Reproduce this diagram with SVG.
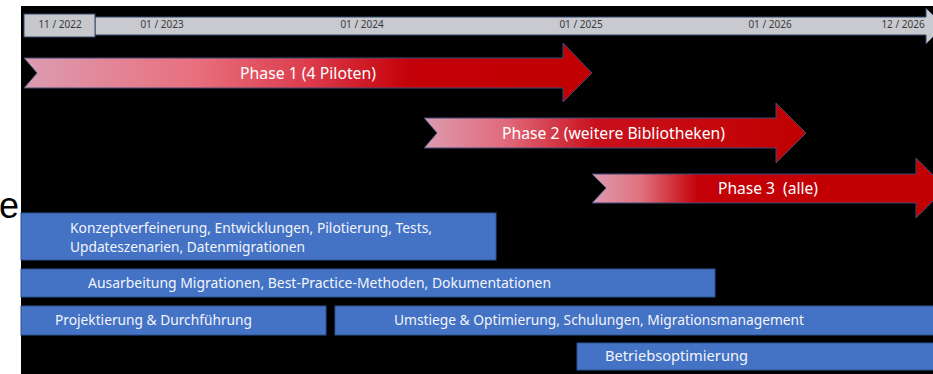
<svg xmlns="http://www.w3.org/2000/svg" width="933" height="374" viewBox="0 0 933 374">
<style>
.tl{font-family:"Noto Sans","Open Sans",sans-serif;font-size:10px;fill:#3a3a3a;text-anchor:middle}
.ph{font-family:"Noto Sans","Open Sans",sans-serif;font-size:16px;fill:#ffffff}
.bt{font-family:"Noto Sans","Open Sans",sans-serif;font-size:14.5px;fill:#f2f5fb}
.b1{font-size:13.5px}
.bar{fill:#4472c4;stroke:#2f528f;stroke-width:1}
.arr{stroke:#3d4a78;stroke-width:1}
</style>
<defs>
<linearGradient id="g1" gradientUnits="userSpaceOnUse" x1="24" y1="0" x2="592" y2="0">
<stop offset="0" stop-color="#dc9cb0"/>
<stop offset="0.3" stop-color="#e8707e"/>
<stop offset="0.5" stop-color="#dc3c4c"/>
<stop offset="0.68" stop-color="#c40008"/>
<stop offset="1" stop-color="#c00000"/>
</linearGradient>
<linearGradient id="g2" gradientUnits="userSpaceOnUse" x1="424" y1="0" x2="806" y2="0">
<stop offset="0" stop-color="#dc9cb0"/>
<stop offset="0.22" stop-color="#e06878"/>
<stop offset="0.45" stop-color="#c8101c"/>
<stop offset="1" stop-color="#c00000"/>
</linearGradient>
<linearGradient id="g3" gradientUnits="userSpaceOnUse" x1="592" y1="0" x2="946" y2="0">
<stop offset="0" stop-color="#dc9cb0"/>
<stop offset="0.14" stop-color="#e0707e"/>
<stop offset="0.3" stop-color="#c40008"/>
<stop offset="1" stop-color="#c00000"/>
</linearGradient>
</defs>
<rect x="0" y="0" width="933" height="374" fill="#ffffff"/>
<text x="-1" y="218" font-family="Liberation Sans,Arial,sans-serif" font-size="36" fill="#000000">e</text>
<rect x="21" y="6" width="912" height="368" fill="#000000"/>

<g id="timeline">
<polygon points="95,17 926,17 926,8 944,26 926,44 926,35 95,35" fill="#c8cad0" stroke="#34496a" stroke-width="1"/>
<rect x="24" y="14" width="71" height="23" fill="#c6c8cc" stroke="#34496a" stroke-width="1"/>
<text class="tl" x="60" y="28">11 / 2022</text>
<text class="tl" x="162" y="28">01 / 2023</text>
<text class="tl" x="362" y="28">01 / 2024</text>
<text class="tl" x="581" y="28">01 / 2025</text>
<text class="tl" x="770" y="28">01 / 2026</text>
<text class="tl" x="903" y="28">12 / 2026</text>
</g>

<g id="phase1">
<polygon class="arr" points="24,58 563,58 563,43 592,73 563,102 563,88 24,88 37,73" fill="url(#g1)"/>
<text class="ph" x="240" y="79" textLength="136" lengthAdjust="spacingAndGlyphs">Phase 1 (4 Piloten)</text>
</g>
<g id="phase2">
<polygon class="arr" points="424,118 776,118 776,103 806,133 776,163 776,148 424,148 437,133" fill="url(#g2)"/>
<text class="ph" x="502" y="139" textLength="223" lengthAdjust="spacingAndGlyphs">Phase 2 (weitere Bibliotheken)</text>
</g>
<g id="phase3">
<polygon class="arr" points="592,174 916,174 916,158 946,188 916,218 916,203 592,203 606,188" fill="url(#g3)"/>
<text class="ph" x="718" y="194" textLength="100" lengthAdjust="spacingAndGlyphs" xml:space="preserve">Phase 3  (alle)</text>
</g>

<g id="bar1">
<rect class="bar" x="21" y="213" width="475" height="47"/>
<text class="bt b1" x="70" y="232.5" textLength="362" lengthAdjust="spacingAndGlyphs">Konzeptverfeinerung, Entwicklungen, Pilotierung, Tests,</text>
<text class="bt b1" x="70" y="252" textLength="235" lengthAdjust="spacingAndGlyphs">Updateszenarien, Datenmigrationen</text>
</g>
<g id="bar2">
<rect class="bar" x="21" y="269" width="694" height="28"/>
<text class="bt" x="88" y="288" textLength="463" lengthAdjust="spacingAndGlyphs">Ausarbeitung Migrationen, Best-Practice-Methoden, Dokumentationen</text>
</g>
<g id="bar3">
<rect class="bar" x="21" y="306" width="305" height="29"/>
<text class="bt" x="55" y="325" textLength="197" lengthAdjust="spacingAndGlyphs">Projektierung &amp; Durchführung</text>
</g>
<g id="bar4">
<rect class="bar" x="335" y="306" width="600" height="29"/>
<text class="bt" x="394" y="325" textLength="410" lengthAdjust="spacingAndGlyphs">Umstiege &amp; Optimierung, Schulungen, Migrationsmanagement</text>
</g>
<g id="bar5">
<rect class="bar" x="577" y="343" width="358" height="27"/>
<text class="bt" x="605" y="361" textLength="143" lengthAdjust="spacingAndGlyphs">Betriebsoptimierung</text>
</g>
<g id="connectors"/>
</svg>
